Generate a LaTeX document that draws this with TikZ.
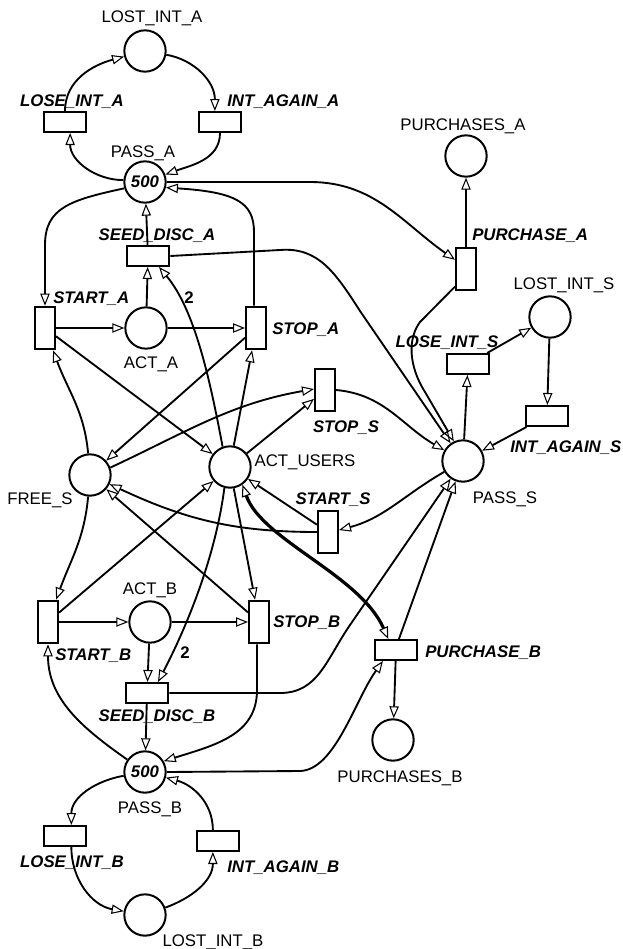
\documentclass[tikz,border=0pt]{standalone}
\usepackage{fontspec}
\setmainfont{Liberation Sans}
\usepackage{tikz}
\usetikzlibrary{arrows.meta,positioning,calc}

\begin{document}
\begin{tikzpicture}[
  x=0.75pt, y=-0.75pt,
  font=\fontsize{12.6}{15}\selectfont,
  place/.style={circle, draw, line width=1.5pt, minimum size=31pt, inner sep=0pt},
  htr/.style={draw, line width=1.5pt, minimum width=32pt, minimum height=15pt, inner sep=0pt},
  vtr/.style={draw, line width=1.5pt, minimum width=15pt, minimum height=32pt, inner sep=0pt},
  plbl/.style={anchor=base, inner sep=0pt},
  tlbl/.style={anchor=base, inner sep=0pt, font=\fontsize{12.6}{15}\selectfont\bfseries\itshape},
  wlbl/.style={anchor=base, inner sep=0pt, font=\fontsize{12.6}{15}\selectfont\bfseries},
  arc/.style={-{Triangle[open, length=9pt, width=7pt, line width=0.8pt]}, line width=1.4pt},
  dbl/.style={{Triangle[open, length=9pt, width=7pt, line width=0.8pt]}-{Triangle[open, length=9pt, width=7pt, line width=0.8pt]}, line width=2.4pt}
]
\useasboundingbox (0,0) rectangle (622,949);

% places
\node[place] (lostA) at (145,51) {};
\node[place] (passA) at (145,182) {\textbf{\textit{500}}};
\node[place] (purchA) at (466,156) {};
\node[place] (lostS) at (550,317) {};
\node[place] (actA) at (146,328) {};
\node[place] (freeS) at (90,475) {};
\node[place] (users) at (230,467) {};
\node[place] (passS) at (463,461) {};
\node[place] (actB) at (150,622) {};
\node[place] (purchB) at (393,740) {};
\node[place] (passB) at (145,772) {\textbf{\textit{500}}};
\node[place] (lostB) at (145,915) {};

% transitions
\node[htr] (loseA) at (65,122) {};
\node[htr] (againA) at (220,122) {};
\node[htr] (seedA) at (148,256) {};
\node[vtr] (startA) at (45,328) {};
\node[vtr] (stopA) at (256,328) {};
\node[vtr] (purA) at (466,269) {};
\node[vtr] (stopS) at (325,390) {};
\node[vtr] (startS) at (328,532) {};
\node[htr] (loseS) at (468,364) {};
\node[htr] (againS) at (547,416) {};
\node[vtr] (startB) at (48,622) {};
\node[vtr] (stopB) at (259,622) {};
\node[htr] (seedB) at (147,693) {};
\node[htr] (purB) at (396,650) {};
\node[htr] (loseB) at (65,836) {};
\node[htr] (againB) at (218,841) {};

% names
\node[plbl] (lostA-t) at (152,23) {LOST\_INT\_A};
\node[plbl] (passA-t) at (143,157) {PASS\_A};
\node[plbl] (purchA-t) at (463,130) {PURCHASES\_A};
\node[plbl] (lostS-t) at (564,289) {LOST\_INT\_S};
\node[plbl] (actA-t) at (151,368) {ACT\_A};
\node[plbl] (freeS-t) at (40,504) {FREE\_S};
\node[plbl] (users-t) at (305,466) {ACT\_USERS};
\node[plbl] (passS-t) at (505,503) {PASS\_S};
\node[plbl] (actB-t) at (150,594) {ACT\_B};
\node[plbl] (purchB-t) at (400,782) {PURCHASES\_B};
\node[plbl] (passB-t) at (150,813) {PASS\_B};
\node[plbl] (lostB-t) at (213,946) {LOST\_INT\_B};

\node[tlbl] (loseA-t) at (72,107) {LOSE\_INT\_A};
\node[tlbl, anchor=base west] (againA-t) at (227,107) {INT\_AGAIN\_A};
\node[tlbl] (seedA-t) at (157,240) {SEED\_DISC\_A};
\node[tlbl, anchor=base west] (startA-t) at (53,303) {START\_A};
\node[tlbl, anchor=base west] (stopA-t) at (272,334) {STOP\_A};
\node[tlbl, anchor=base west] (purA-t) at (472,240) {PURCHASE\_A};
\node[tlbl] (loseS-t) at (447,347) {LOSE\_INT\_S};
\node[tlbl] (stopS-t) at (346,432) {STOP\_S};
\node[tlbl, anchor=base west] (againS-t) at (510,452) {INT\_AGAIN\_S};
\node[tlbl] (startS-t) at (333,504) {START\_S};
\node[tlbl, anchor=base west] (startB-t) at (55,660) {START\_B};
\node[tlbl, anchor=base west] (stopB-t) at (273,627) {STOP\_B};
\node[tlbl] (seedB-t) at (157,721) {SEED\_DISC\_B};
\node[tlbl, anchor=base west] (purB-t) at (425,657) {PURCHASE\_B};
\node[tlbl] (loseB-t) at (72,867) {LOSE\_INT\_B};
\node[tlbl, anchor=base west] (againB-t) at (227,872) {INT\_AGAIN\_B};
\node[wlbl] (w2a) at (189,303) {2};
\node[wlbl] (w2b) at (185,658) {2};

% arcs, part A
\draw[arc] (passA.175) to[out=180, in=270] (loseA.-65);
\draw[arc] (loseA) to[out=90, in=195] (lostA);
\draw[arc] (lostA) to[out=-10, in=90] (againA.115);
\draw[arc] (againA) to[out=270, in=20] (passA);
\draw[arc] (passA.197) .. controls (70,200) and (45,208) .. (45,245) -- (startA);
\draw[arc] (stopA.95) -- (254,232) .. controls (254,202) and (235,192) .. (passA.-15);
\draw[arc] (passA) -- (310,182) to[out=0, in=145] (purA.140);
\draw[arc] (purA) -- (purchA);
\draw[arc] (actA) -- (seedA);
\draw[arc] (users.110) .. controls (210,380) and (195,310) .. (seedA.-45);
\draw[arc] (seedA) -- (passA);
\draw[arc] (seedA.east) -- (280,250) .. controls (318,247) and (335,272) .. (360,311) -- (passS.125);
\draw[arc] (startA) -- (actA);
\draw[arc] (actA) -- (stopA);
\draw[arc] (startA) -- (users);
\draw[arc] (freeS) to[out=95, in=-70] (startA.-70);
\draw[arc] (stopA) -- (freeS);
\draw[arc] (users.80) -- (stopA.-100);

% arcs, part S
\draw[arc] (freeS.20) to[out=25, in=190] (stopS.175);
\draw[arc] (users) -- (stopS);
\draw[arc] (stopS.east) to[out=-5, in=150] (passS);
\draw[arc] (startS.west) to[out=180, in=-25] (freeS);
\draw[arc] (startS) -- (users);
\draw[arc] (passS) to[out=210, in=15] (startS.10);
\draw[arc] (passS) -- (loseS);
\draw[arc] (loseS) -- (lostS);
\draw[arc] (lostS) -- (againS);
\draw[arc] (againS) -- (passS);
\draw[arc] (purA.-122) -- (420,322) .. controls (408,338) and (408,365) .. (425,392) -- (passS.115);
\draw[dbl] (users.-55) .. controls (262,540) and (360,575) .. (purB.125);

% arcs, part B
\draw[arc] (users.-80) -- (stopB.100);
\draw[arc] (users.-105) .. controls (215,560) and (185,630) .. (seedB.45);
\draw[arc] (startB) -- (actB);
\draw[arc] (actB) -- (stopB);
\draw[arc] (startB) -- (users);
\draw[arc] (stopB) -- (freeS);
\draw[arc] (freeS) to[out=-95, in=70] (startB.70);
\draw[arc] (actB) -- (seedB);
\draw[arc] (seedB) -- (passB);
\draw[arc] (seedB.east) -- (280,693) .. controls (318,693) and (326,660) .. (350,625) -- (passS.235);
\draw[arc] (purB.75) -- (passS.250);
\draw[arc] (stopB.-95) -- (257,690) .. controls (257,735) and (215,745) .. (passB.30);
\draw[arc] (passB) to[out=145, in=270] (startB);
\draw[arc] (passB.east) -- (300,771) .. controls (335,770) and (355,700) .. (purB.-140);
\draw[arc] (purB) -- (purchB);
\draw[arc] (passB.190) to[out=190, in=90] (loseB.60);
\draw[arc] (loseB.-60) to[out=270, in=170] (lostB);
\draw[arc] (lostB) to[out=20, in=270] (againB.-115);
\draw[arc] (againB.115) to[out=90, in=-15] (passB);
\end{tikzpicture}
\end{document}
